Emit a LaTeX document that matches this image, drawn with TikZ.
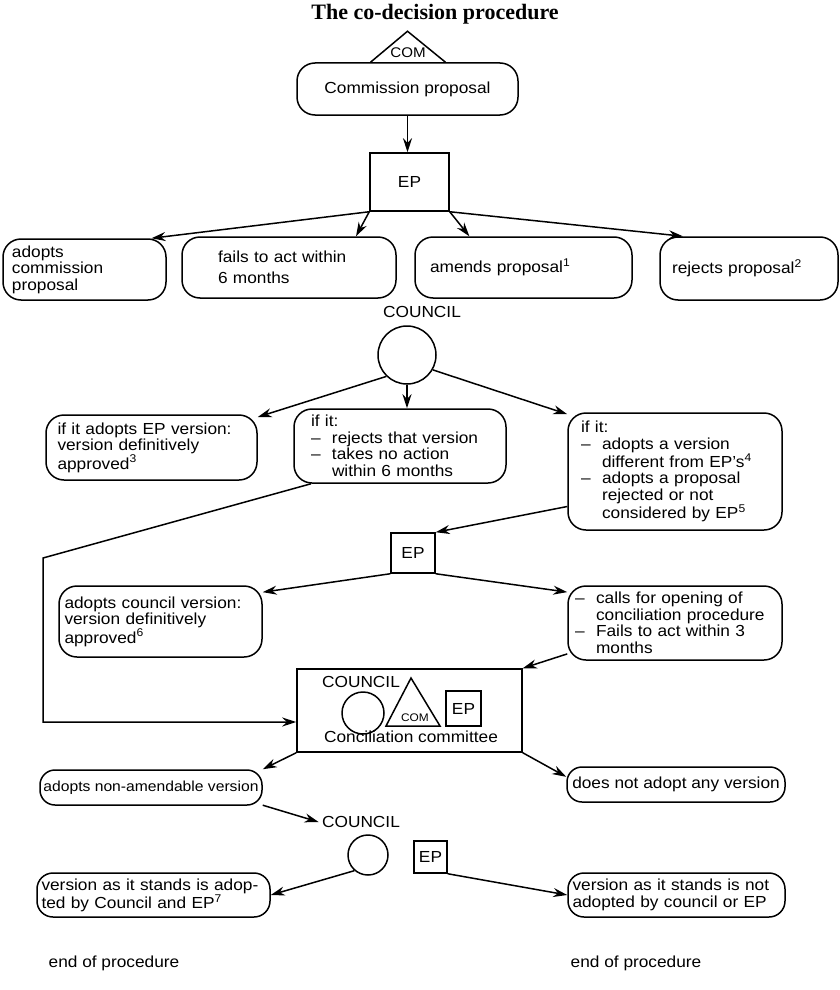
\documentclass[tikz,border=0pt]{standalone}
\usepackage{fontspec}
\setmainfont{Liberation Sans}[FakeStretch=1.08]
\newfontfamily\titlefont{Liberation Serif}
\usetikzlibrary{arrows.meta}
\newcommand{\listdash}{\makebox[21pt][l]{--}}
\newcommand{\listgap}{\hspace*{21pt}}

\tikzset{
  stagebox/.style={draw, line width=1.5pt, rounded corners=18pt, align=left, inner sep=2pt},
  party/.style={draw, line width=1.5pt, inner sep=0pt},
  flow/.style={line width=1.5pt, -{Stealth[length=14pt,width=9pt]}},
}

\begin{document}
\begin{tikzpicture}[x=1pt, y=-1pt, font=\fontsize{16}{16.5}\selectfont]
  \useasboundingbox (0,0) rectangle (840,990);

  \node[font=\titlefont\bfseries\fontsize{22}{24}\selectfont] (title) at (435,14) {The co-decision procedure};

  % commission and first reading
  \node[stagebox, align=center, minimum width=221pt, minimum height=52pt] (prop) at (407.5,89) {Commission proposal};
  \draw[line width=1.5pt] ([xshift=-37pt]prop.north) -- ++(37,-31) -- ++(38,31);
  \node[font=\fontsize{14}{14}\selectfont, inner sep=0pt] (com) at (408,53) {COM};
  \node[party, minimum width=79pt, minimum height=58pt] (ep) at (409.5,182) {EP};
  \draw[flow] (prop.south) -- (prop.south |- ep.north);

  \node[stagebox, text width=145pt, minimum width=163pt, minimum height=61pt] (adopt) at (84.5,269.5) {adopts\\commission\\proposal};
  \node[stagebox, text width=142pt, minimum width=214pt, minimum height=61pt] (fail) at (289,267.5) {fails to act within\\[5pt]6 months};
  \node[stagebox, text width=187pt, minimum width=217pt, minimum height=61pt] (amend) at (523.5,267.5) {amends proposal\textsuperscript{1}};
  \node[stagebox, text width=154pt, minimum width=178pt, minimum height=63pt] (reject) at (749,268.5) {rejects proposal\textsuperscript{2}};
  \draw[flow] (ep.south west) -- (adopt.25);
  \draw[flow] (ep.south west) -- (fail.25);
  \draw[flow] (ep.south east) -- (amend.150);
  \draw[flow] (ep.south east) -- (reject.154);

  % council
  \node (clab) at (422,312) {COUNCIL};
  \node[party, circle, minimum size=58pt] (cnc) at (407,355) {};
  \node[stagebox, text width=188pt, minimum width=211pt, minimum height=65pt] (accept) at (151.5,447.5) {if it adopts EP version:\\version definitively\\approved\textsuperscript{3}};
  \node[stagebox, text width=178pt, minimum width=212pt, minimum height=74pt] (refuse) at (400,446) {if it:\\\listdash rejects that version\\\listdash takes no action\\\listgap within 6 months};
  \node[stagebox, text width=188pt, minimum width=214pt, minimum height=117pt] (differ) at (675,471.5) {if it:\\\listdash adopts a version\\\listgap different from EP's\textsuperscript{4}\\\listdash adopts a proposal\\\listgap rejected or not\\\listgap considered by EP\textsuperscript{5}};
  \draw[flow] (cnc.226) -- (accept.16);
  \draw[flow] (cnc.south) -- (cnc.south |- refuse.north);
  \draw[flow] (cnc.-30) -- (differ.152);

  % second reading
  \node[party, minimum width=44pt, minimum height=40pt] (ep2) at (413,553) {EP};
  \draw[flow] ([yshift=-35pt]differ.west) -- (ep2.north east);
  \node[stagebox, text width=192pt, minimum width=203pt, minimum height=71pt] (keep) at (160.5,621.5) {adopts council version:\\version definitively\\approved\textsuperscript{6}};
  \node[stagebox, text width=200pt, minimum width=214pt, minimum height=74pt] (call) at (675,623) {\listdash calls for opening of\\\listgap conciliation procedure\\\listdash Fails to act within 3\\\listgap months};
  \draw[flow] (ep2.south west) -- (keep.16);
  \draw[flow] (ep2.south east) -- (call.164);

  % conciliation committee
  \node[draw, line width=1.5pt, minimum width=225pt, minimum height=83pt] (conc) at (409.5,710.5) {};
  \coordinate (bendL) at (43,558);
  \draw[flow] (refuse.203) -- (bendL) |- ([yshift=-11.5pt]conc.west);
  \draw[flow] (call.196) -- (conc.north east);
  \node[inner sep=0pt] (clab2) at (361,682) {COUNCIL};
  \node[party, circle, minimum size=42pt] (cnc2) at (363,713) {};
  \draw[line width=1.5pt] (386,726) -- (411,678) -- (440,726) -- cycle;
  \node[font=\fontsize{11}{11}\selectfont, inner sep=0pt] (com2) at (415,718) {COM};
  \node[party, minimum size=35pt] (ep4) at (463.5,708.5) {EP};
  \node[inner sep=0pt] (cclab) at (411,737) {Conciliation committee};

  \node[stagebox, align=center, font=\fontsize{14.5}{16}\selectfont, minimum width=222pt, minimum height=35pt, rounded corners=15pt, inner xsep=1pt] (fixed) at (151,787.5) {adopts non-amendable version};
  \node[stagebox, align=center, minimum width=218pt, minimum height=35pt, rounded corners=15pt] (none) at (676,784.5) {does not adopt any version};
  \draw[flow] (conc.south west) -- (fixed.north east);
  \draw[flow] (conc.south east) -- (none.176);

  % third reading
  \node (clab3) at (361,822) {COUNCIL};
  \draw[flow] (fixed.-9) -- (clab3.west);
  \node[party, circle, minimum size=40pt] (cnc3) at (368,855) {};
  \node[party, minimum width=33pt, minimum height=32pt] (ep3) at (430.5,857) {EP};
  \node[stagebox, text width=224pt, minimum width=233pt, minimum height=44pt, rounded corners=16pt] (pass) at (153.5,895) {version as it stands is adop-\\ted by Council and EP\textsuperscript{7}};
  \node[stagebox, text width=208pt, minimum width=217pt, minimum height=44pt, rounded corners=16pt] (lapse) at (676.5,895) {version as it stands is not\\adopted by council or EP};
  \draw[flow] (cnc3.229) -- (pass.east);
  \draw[flow] (ep3.south east) -- (lapse.west);

  \node (end1) at (114,963) {end of procedure};
  \node (end2) at (636,963) {end of procedure};
\end{tikzpicture}
\end{document}
